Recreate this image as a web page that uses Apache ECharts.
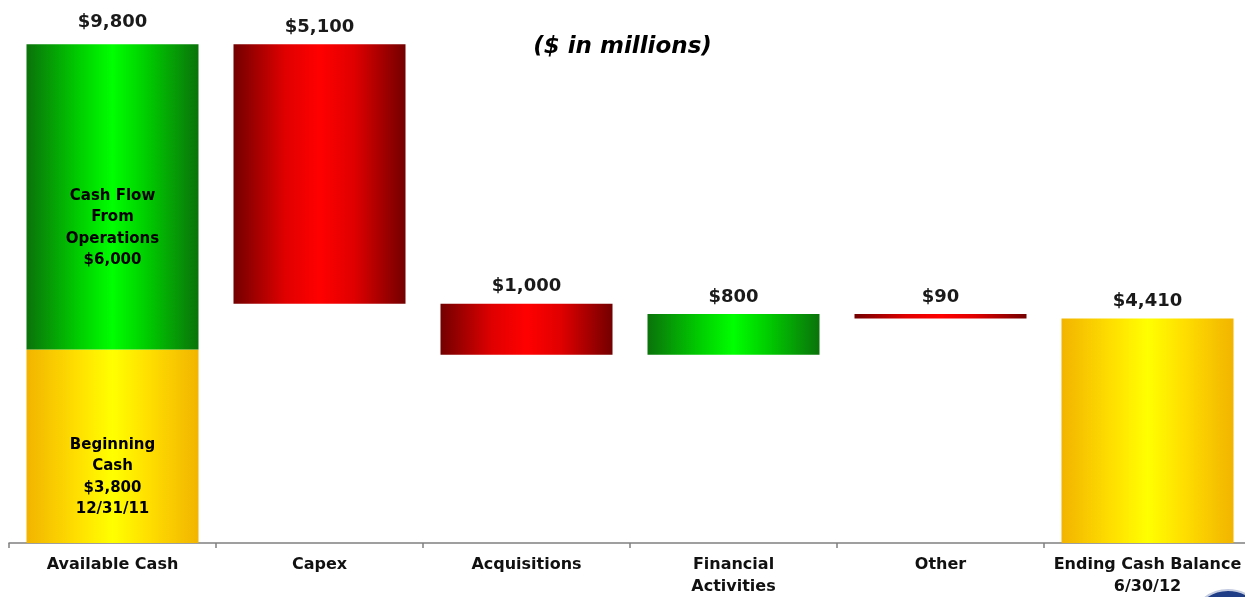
<!DOCTYPE html>
<html>
<head>
<meta charset="utf-8">
<title>Cash Walk</title>
<script src="https://cdn.jsdelivr.net/npm/echarts@6/dist/echarts.min.js"></script>
<style>
  html, body { margin: 0; padding: 0; background: #ffffff; }
  #chart { width: 1245px; height: 597px; }
</style>
</head>
<body>
<div id="chart"></div>
<script>
// Cash walk, $ in millions
const categories = ['Available Cash', 'Capex', 'Acquisitions', 'Financial\nActivities', 'Other', 'Ending Cash Balance\n6/30/12'];
const beginningCash = 3800;      // 12/31/11
const operatingCashFlow = 6000;  // cash flow from operations
const changeItems = [-5100, -1000, 800, -90]; // Capex, Acquisitions, Financial Activities, Other
const endingCash = 4410;         // 6/30/12

const fmt = v => '$' + Math.abs(v).toLocaleString('en-US');

// Running balances for the waterfall steps
const available = beginningCash + operatingCashFlow;
const base = [0], yellow = [beginningCash], green = [operatingCashFlow], red = [null];
const tops = [available], topLabels = [fmt(available)];
let running = available;
changeItems.forEach(v => {
  const next = running + v;
  base.push(Math.min(running, next));
  yellow.push(null);
  green.push(v > 0 ? v : null);
  red.push(v < 0 ? -v : null);
  tops.push(Math.max(running, next));
  topLabels.push(fmt(v));
  running = next;
});
base.push(0); yellow.push(endingCash); green.push(null); red.push(null);
tops.push(endingCash); topLabels.push(fmt(endingCash));

const grad = (edge, mid, center) => ({
  type: 'linear', x: 0, y: 0, x2: 1, y2: 0,
  colorStops: [
    { offset: 0, color: edge },
    { offset: 0.3, color: mid },
    { offset: 0.5, color: center },
    { offset: 0.7, color: mid },
    { offset: 1, color: edge }
  ]
});
const greenFill = grad('#0a730a', '#00cc00', '#00ff00');
const redFill = grad('#730000', '#e00000', '#ff0000');
const yellowFill = grad('#f2b400', '#ffe000', '#ffff00');

const FONT = 'DejaVu Sans';
const innerLabel = {
  show: true, position: 'inside', offset: [0, 31],
  fontFamily: FONT, fontWeight: 'bold', fontSize: 15, lineHeight: 21.5, color: '#000000'
};

const chart = echarts.init(document.getElementById('chart'));
chart.setOption({
  animation: false,
  backgroundColor: '#ffffff',
  grid: { left: 9, width: 1242, top: 34, bottom: 54, outerBoundsMode: 'none', containLabel: false },
  xAxis: {
    type: 'category',
    data: categories,
    axisLine: { lineStyle: { color: '#808080', width: 1.5 } },
    axisTick: { show: true, length: 5, lineStyle: { color: '#808080', width: 1.5 } },
    axisLabel: {
      margin: 11, fontFamily: FONT, fontWeight: 'bold', fontSize: 16,
      lineHeight: 22, color: '#111111', interval: 0, hideOverlap: false
    }
  },
  yAxis: { type: 'value', min: 0, max: 10000, show: false, splitLine: { show: false } },
  series: [
    {
      name: 'base', type: 'bar', stack: 'walk', barWidth: 172, data: base,
      itemStyle: { color: 'transparent' }, silent: true
    },
    {
      name: 'cash', type: 'bar', stack: 'walk', barWidth: 172,
      itemStyle: { color: yellowFill },
      data: yellow.map((v, i) => i === 0
        ? { value: v, label: { ...innerLabel, formatter: 'Beginning\nCash\n' + fmt(v) + '\n12/31/11' } }
        : v)
    },
    {
      name: 'increase', type: 'bar', stack: 'walk', barWidth: 172,
      itemStyle: { color: greenFill },
      data: green.map((v, i) => i === 0
        ? { value: v, label: { ...innerLabel, formatter: 'Cash Flow\nFrom\nOperations\n' + fmt(v) } }
        : v)
    },
    {
      name: 'decrease', type: 'bar', stack: 'walk', barWidth: 172,
      itemStyle: { color: redFill },
      data: red
    },
    {
      name: 'totals', type: 'scatter', symbolSize: 0, silent: true,
      itemStyle: { opacity: 1 },
      label: {
        show: true, position: 'top', distance: 8,
        fontFamily: FONT, fontWeight: 'bold', fontSize: 18, color: '#1a1a1a',
        formatter: p => topLabels[p.dataIndex]
      },
      data: tops.map((v, i) => i === 0 ? { value: v, label: { distance: 13 } } : v)
    }
  ],
  graphic: [
    {
      type: 'text', left: 'center', top: 36,
      style: {
        text: '($ in millions)', fontFamily: FONT, fontWeight: 'bold',
        fontStyle: 'italic', fontSize: 23, fill: '#000000'
      }
    },
    {
      type: 'circle', silent: true,
      shape: { cx: 1228, cy: 628, r: 38 },
      style: { fill: '#1f3c86', stroke: '#c3cbe0', lineWidth: 2 }
    }
  ]
});
</script>
</body>
</html>
